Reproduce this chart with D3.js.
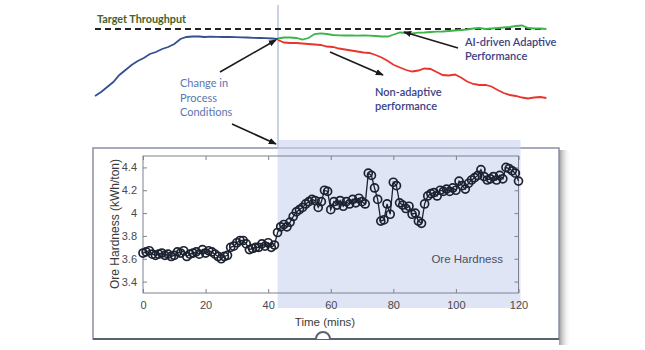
<!DOCTYPE html>
<html><head><meta charset="utf-8">
<script src="https://cdn.jsdelivr.net/npm/d3@7"></script>
<style>body{margin:0;background:#fff} svg{display:block}</style>
</head><body>
<svg id="c" width="645" height="350"></svg>
<script>
// ---------- DATA ----------
// Ore hardness (kWh/ton), one sample per minute, 0..120 min
const oreHardness = [
 3.65,3.66,3.67,3.64,3.63,3.64,3.65,3.63,3.64,3.62,
 3.63,3.66,3.65,3.67,3.62,3.64,3.65,3.66,3.64,3.68,
 3.65,3.67,3.66,3.64,3.62,3.60,3.62,3.63,3.70,3.71,
 3.74,3.76,3.76,3.73,3.68,3.69,3.70,3.70,3.73,3.71,
 3.74,3.70,3.72,3.83,3.88,3.90,3.88,3.92,3.97,4.01,
 4.03,4.05,4.08,4.10,4.12,4.11,4.05,4.10,4.20,4.19,
 4.03,4.10,4.07,4.11,4.06,4.10,4.08,4.12,4.09,4.13,
 4.10,4.08,4.35,4.33,4.22,4.12,3.93,3.94,4.08,3.99,
 4.27,4.24,4.09,4.07,4.04,4.06,3.99,4.00,3.93,3.91,
 4.08,4.15,4.17,4.18,4.15,4.20,4.19,4.21,4.19,4.22,
 4.20,4.28,4.24,4.21,4.26,4.29,4.31,4.33,4.38,4.32,
 4.29,4.30,4.32,4.29,4.33,4.30,4.40,4.39,4.37,4.35,
 4.28
];
const timeTicks = [0, 20, 40, 60, 80, 100, 120];
const hardnessTicks = [3.4, 3.6, 3.8, 4, 4.2, 4.4];
const changeTime = 43;          // minutes, change in process conditions

// Throughput (% of target), schematic time units, sample step 2
const throughputStep = 2;
const baselineThroughput = [   // t = 0..60
 33,37,42,47,54,59,64,68,71,75,77,80,82,85,90,92,
 92.5,92.5,92,92.3,92.2,92,92,91.8,91.6,91.5,91.2,91,90.8,90.5,90
];
const adaptiveThroughput = [   // t = 60..148
 90.5,91.5,91.5,91,89.5,91,95,95.7,95,94,93.7,93.5,93.5,93.3,93.5,93.3,
 93,92.5,92.5,94.5,96.5,96,95.7,96.3,96.5,97,97.3,97.5,98,98.5,99,99.5,
 100.5,101,100,100.5,101,101.5,102,103,103.5,101,100.5,100.5,100
];
const nonAdaptiveThroughput = [ // t = 60..148
 89,86.5,86,86,85.5,85,84.5,84,82.5,82,80.5,79.5,78.5,77.5,76.5,76,
 74,71.5,68,64,61.5,59,57.5,58.5,60.5,60,57,54,53.5,54.5,51.5,47.5,
 45,44,44,42.5,39,36,34,33,31.5,30.5,31.5,32,31
];
const targetThroughput = 100;
const changeStep = 60;

// ---------- DRAW ----------
const svg = d3.select("#c");
const defs = svg.append("defs");
defs.append("marker").attr("id","arr").attr("viewBox","0 0 10 10")
  .attr("refX",9).attr("refY",5).attr("markerWidth",5).attr("markerHeight",5)
  .attr("orient","auto").append("path").attr("d","M0,1L10,5L0,9z").attr("fill","#1a1a1a");
const shadow = defs.append("linearGradient").attr("id","sh").attr("x1",0).attr("x2",1);
shadow.append("stop").attr("offset",0).attr("stop-color","#9a9a9a");
shadow.append("stop").attr("offset",1).attr("stop-color","#fff").attr("stop-opacity",0);

// Upper schematic chart
const ux = d3.scaleLinear().domain([0,150]).range([95,552.5]);
const uy = d3.scaleLinear().domain([0,100]).range([129,29]);
const uline = (t0) => d3.line().x((d,i)=>ux(t0+i*throughputStep)).y(d=>uy(d)).curve(d3.curveLinear);

// vertical change line
svg.append("line").attr("x1",ux(changeStep)).attr("x2",ux(changeStep))
  .attr("y1",5).attr("y2",148).attr("stroke","#a9b4d6").attr("stroke-width",1.2);

// target dashed line
svg.append("line").attr("x1",ux(0)).attr("x2",ux(146.5))
  .attr("y1",uy(targetThroughput)).attr("y2",uy(targetThroughput))
  .attr("stroke","#222").attr("stroke-width",1.8).attr("stroke-dasharray","6,4");
svg.append("text").attr("x",97).attr("y",23).text("Target Throughput")
  .attr("font-family","Lato, 'Open Sans', sans-serif").attr("font-weight","bold")
  .attr("font-size",10.8).attr("fill","#45622a");

svg.append("path").datum(baselineThroughput).attr("d",uline(0))
  .attr("fill","none").attr("stroke","#34508f").attr("stroke-width",1.8);
svg.append("path").datum(nonAdaptiveThroughput).attr("d",uline(changeStep))
  .attr("fill","none").attr("stroke","#e8352c").attr("stroke-width",1.8);
svg.append("path").datum(adaptiveThroughput).attr("d",uline(changeStep))
  .attr("fill","none").attr("stroke","#3cb44a").attr("stroke-width",1.8);

// annotations
const annFont = "Lato, 'Open Sans', sans-serif";
function arrow(x1,y1,x2,y2){
  svg.append("line").attr("x1",x1).attr("y1",y1).attr("x2",x2).attr("y2",y2)
    .attr("stroke","#1a1a1a").attr("stroke-width",1.6).attr("marker-end","url(#arr)");
}
arrow(220,72,276,40);
arrow(232,124,276,144);
arrow(330,52,383,75);
arrow(458,48,404,32);

const ch = svg.append("text").attr("font-family",annFont).attr("font-size",11)
  .attr("fill","#5a76b0");
[["Change in",87],["Process",102],["Conditions",116]].forEach(([t,y])=>
  ch.append("tspan").attr("x",180).attr("y",y).text(t));
const na = svg.append("text").attr("font-family",annFont).attr("font-size",11)
  .attr("font-weight",600).attr("fill","#3c4384");
[["Non-adaptive",96],["performance",110]].forEach(([t,y])=>
  na.append("tspan").attr("x",375).attr("y",y).text(t));
const ad = svg.append("text").attr("font-family",annFont).attr("font-size",11)
  .attr("font-weight",600).attr("fill","#3c4384");
[["AI-driven Adaptive",46],["Performance",60]].forEach(([t,y])=>
  ad.append("tspan").attr("x",465).attr("y",y).text(t));

// Lower chart window frame
svg.append("rect").attr("x",559).attr("y",150).attr("width",12).attr("height",195)
  .attr("fill","url(#sh)");
svg.append("rect").attr("x",93).attr("y",148).attr("width",466).attr("height",191)
  .attr("fill","#fff").attr("stroke","#8a90a6").attr("stroke-width",1.5);
svg.append("line").attr("x1",93).attr("x2",559).attr("y1",339).attr("y2",339)
  .attr("stroke","#5c6270").attr("stroke-width",2);

const x = d3.scaleLinear().domain([0,120]).range([143,518.5]);
const y = d3.scaleLinear().domain([3.3,4.5]).range([293,156]);

// shaded region after change
svg.append("rect").attr("x",x(changeTime)).attr("y",140)
  .attr("width",x(120)+2-x(changeTime)).attr("height",308-140)
  .attr("fill","#c9d3ee").attr("fill-opacity",0.6);

// plot box
svg.append("rect").attr("x",x(0)).attr("y",y(4.5)).attr("width",x(120)-x(0))
  .attr("height",y(3.3)-y(4.5)).attr("fill","none").attr("stroke","#7d8290").attr("stroke-width",1);

const tickFont = "'Liberation Sans', Arial, sans-serif";
function styleAxis(g, showLabels){
  g.select(".domain").remove();
  g.selectAll(".tick line").attr("stroke","#7d8290");
  g.selectAll(".tick text").attr("fill","#4a4a4a").attr("font-size",11)
    .attr("font-family",tickFont);
  if(!showLabels) g.selectAll(".tick text").remove();
}
svg.append("g").attr("transform",`translate(0,${y(3.3)})`)
  .call(d3.axisBottom(x).tickValues(timeTicks).tickSize(-4).tickPadding(8).tickFormat(d3.format("d")))
  .call(g=>styleAxis(g,true));
svg.append("g").attr("transform",`translate(0,${y(4.5)})`)
  .call(d3.axisTop(x).tickValues(timeTicks).tickSize(-4))
  .call(g=>styleAxis(g,false));
svg.append("g").attr("transform",`translate(${x(0)},0)`)
  .call(d3.axisLeft(y).tickValues(hardnessTicks).tickSize(-4).tickPadding(6).tickFormat(d=>String(+d.toFixed(1))))
  .call(g=>styleAxis(g,true));
svg.append("g").attr("transform",`translate(${x(120)},0)`)
  .call(d3.axisRight(y).tickValues(hardnessTicks).tickSize(-4))
  .call(g=>styleAxis(g,false));

// series line + circle markers
svg.append("path").datum(oreHardness)
  .attr("d", d3.line().x((d,i)=>x(i)).y(d=>y(d)))
  .attr("fill","none").attr("stroke","#1c2230").attr("stroke-width",1.3);
svg.append("g").selectAll("circle").data(oreHardness).join("circle")
  .attr("cx",(d,i)=>x(i)).attr("cy",d=>y(d)).attr("r",4)
  .attr("fill","none").attr("stroke","#1c2230").attr("stroke-width",1.7);

// labels
svg.append("text").attr("x",325).attr("y",326).attr("text-anchor","middle")
  .attr("font-family",tickFont).attr("font-size",11.5).attr("fill","#3a3a3a").text("Time (mins)");
svg.append("text").attr("transform","translate(119,224) rotate(-90)").attr("text-anchor","middle")
  .attr("font-family",tickFont).attr("font-size",12).attr("fill","#3a3a3a").text("Ore Hardness (kWh/ton)");
svg.append("text").attr("x",503).attr("y",263).attr("text-anchor","end")
  .attr("font-family",tickFont).attr("font-size",11.5).attr("fill","#4a4f60").text("Ore Hardness");

// resize handle
svg.append("path").attr("d","M316,339 A7,7 0 0 1 330,339").attr("fill","#fff")
  .attr("stroke","#5c6270").attr("stroke-width",2);
</script>
</body></html>
